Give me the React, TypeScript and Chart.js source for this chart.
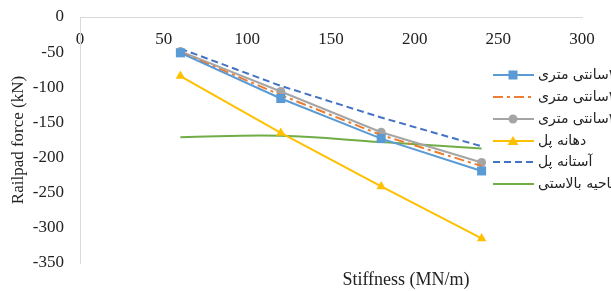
import { useEffect, useRef } from 'react';
import { Chart, registerables } from 'chart.js';

Chart.register(...registerables);

const stiffness = [60, 120, 180, 240];
const pad20 = [-51, -116, -173, -219];
const pad25 = [-50, -111, -168, -212];
const pad30 = [-49, -106, -164, -207];
const bridgeSpan = [-84, -165, -241, -315];
const bridgeApproach = [-45, -98, -143, -184];
const ballastZone = [-171, -169, -178, -187];
const seriesNames = ['۲۰سانتی متری', '۲۵سانتی متری', '۳۰سانتی متری', 'دهانه پل', 'آستانه پل', 'ناحیه بالاستی'];
const xTitle = 'Stiffness (MN/m)';
const yTitle = 'Railpad force (kN)';

const toPts = (ys: number[]) => ys.map((y, i) => ({ x: stiffness[i], y }));

const legendPlugin = {
  id: 'customLegend',
  afterDraw(chart: any) {
    const ctx = chart.ctx as CanvasRenderingContext2D;
    const rows = [75, 97, 119, 141, 162, 184];
    chart.data.datasets.forEach((ds: any, i: number) => {
      const y = rows[i];
      const x0 = 493, x1 = 534, xm = 513;
      ctx.save();
      ctx.strokeStyle = ds.borderColor;
      ctx.lineWidth = ds.borderWidth;
      ctx.setLineDash(ds.borderDash || []);
      ctx.beginPath();
      ctx.moveTo(x0, y);
      ctx.lineTo(x1, y);
      ctx.stroke();
      ctx.setLineDash([]);
      ctx.fillStyle = ds.borderColor;
      if (ds.pointRadius > 0) {
        if (ds.pointStyle === 'rect') {
          ctx.fillRect(xm - 4.5, y - 4.5, 9, 9);
        } else if (ds.pointStyle === 'circle') {
          ctx.beginPath();
          ctx.arc(xm, y, 4.5, 0, Math.PI * 2);
          ctx.fill();
        } else if (ds.pointStyle === 'triangle') {
          ctx.beginPath();
          ctx.moveTo(xm, y - 5);
          ctx.lineTo(xm + 5.5, y + 4);
          ctx.lineTo(xm - 5.5, y + 4);
          ctx.closePath();
          ctx.fill();
        }
      }
      ctx.fillStyle = '#222';
      ctx.font = '14px "DejaVu Sans"';
      (ctx as any).direction = 'rtl';
      ctx.textAlign = 'left';
      ctx.textBaseline = 'middle';
      ctx.fillText(seriesNames[i], 538, y);
      ctx.restore();
    });
    ctx.save();
    ctx.fillStyle = '#222';
    ctx.font = '18px "Liberation Serif"';
    ctx.textAlign = 'center';
    ctx.textBaseline = 'middle';
    ctx.fillText(xTitle, 406, 280);
    ctx.restore();
  },
};

export default function App() {
  const ref = useRef<HTMLCanvasElement>(null);
  useEffect(() => {
    if (!ref.current) return;
    Chart.defaults.font.family = '"Liberation Serif"';
    Chart.defaults.color = '#222';
    const common = { borderWidth: 2, fill: false, pointBorderWidth: 0 };
    const chart = new Chart(ref.current, {
      type: 'line',
      data: {
        datasets: [
          { ...common, label: seriesNames[0], data: toPts(pad20), borderColor: '#5B9BD5', backgroundColor: '#5B9BD5', pointStyle: 'rect', pointRadius: 6.4, tension: 0 },
          { ...common, label: seriesNames[1], data: toPts(pad25), borderColor: '#ED7D31', backgroundColor: '#ED7D31', borderDash: [10, 4, 3, 4], pointRadius: 0, tension: 0 },
          { ...common, label: seriesNames[2], data: toPts(pad30), borderColor: '#A5A5A5', backgroundColor: '#A5A5A5', pointStyle: 'circle', pointRadius: 4.5, tension: 0 },
          { ...common, label: seriesNames[3], data: toPts(bridgeSpan), borderColor: '#FFC000', backgroundColor: '#FFC000', pointStyle: 'triangle', pointRadius: 5.5, tension: 0 },
          { ...common, label: seriesNames[4], data: toPts(bridgeApproach), borderColor: '#4472C4', backgroundColor: '#4472C4', borderDash: [7, 4], pointRadius: 0, tension: 0 },
          { ...common, label: seriesNames[5], data: toPts(ballastZone), borderColor: '#70AD47', backgroundColor: '#70AD47', pointRadius: 0, tension: 0.4 },
        ] as any,
      },
      options: {
        animation: false,
        responsive: false,
        layout: { padding: { top: 17, bottom: 28, right: 29, left: 0 } },
        plugins: { legend: { display: false }, tooltip: { enabled: false } },
        scales: {
          x: {
            type: 'linear',
            position: { y: 0 } as any,
            min: 0,
            max: 300,
            ticks: { stepSize: 50, padding: 12, font: { size: 17 }, color: '#222' },
            grid: { display: false, drawTicks: false },
            border: { display: true, color: '#D9D9D9', width: 1 },
          },
          y: {
            type: 'linear',
            position: 'left',
            min: -350,
            max: 0,
            ticks: { stepSize: 50, padding: 0, font: { size: 17 }, color: '#222' },
            grid: { display: true, drawOnChartArea: false, drawTicks: true, tickLength: 16, color: 'rgba(0,0,0,0)' },
            border: { display: true, color: '#D9D9D9', width: 1 },
            title: { display: true, text: yTitle, font: { size: 17 }, color: '#222', padding: { top: 8 } },
            afterFit: (scale: any) => { scale.width = 80; },
          },
        },
      },
      plugins: [legendPlugin],
    });
    return () => chart.destroy();
  }, []);
  return (
    <div style={{ position: 'absolute', left: 0, top: 0, width: 611, height: 291, background: '#fff' }}>
      <canvas ref={ref} width={611} height={291} />
    </div>
  );
}
